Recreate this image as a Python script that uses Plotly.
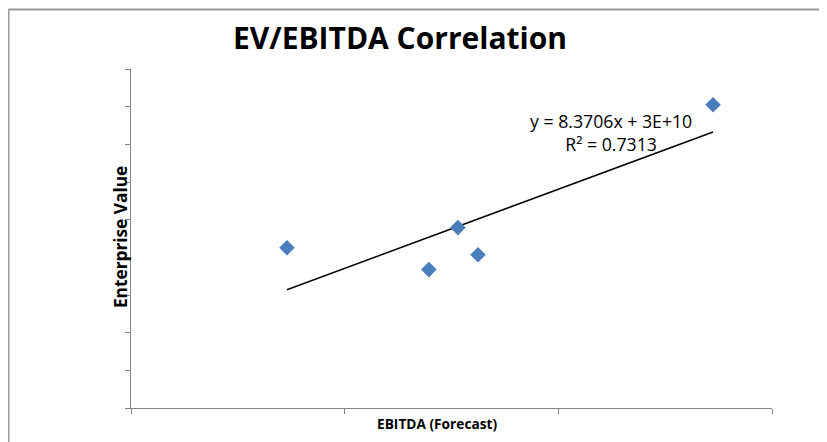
import numpy as np
import plotly.graph_objects as go

# Data (EBITDA forecast vs Enterprise Value)
ebitda = [3.65e9, 6.97e9, 7.65e9, 8.12e9, 13.62e9]
enterprise_value = [8.51e10, 7.35e10, 9.58e10, 8.14e10, 1.61e11]
trend_label = ["y = 8.3706x + 3E+10", "R² = 0.7313"]
x_ticks = [0, 5e9, 1e10, 1.5e10]
y_ticks = [i * 2e10 for i in range(10)]

slope, intercept = np.polyfit(ebitda, enterprise_value, 1)
tx = [min(ebitda), max(ebitda)]
ty = [slope * v + intercept for v in tx]

FONT = "Open Sans"

fig = go.Figure()
fig.add_trace(go.Scatter(
    x=tx, y=ty, mode="lines",
    line=dict(color="black", width=1.5),
    hoverinfo="skip", showlegend=False))
fig.add_trace(go.Scatter(
    x=ebitda, y=enterprise_value, mode="markers",
    marker=dict(symbol="diamond", size=12, color="#4A7EBB",
                line=dict(width=0)),
    showlegend=False))

fig.add_annotation(
    x=0.749, y=0.813, xref="paper", yref="paper",
    xanchor="center", yanchor="middle",
    text=trend_label[0] + "<br>" + trend_label[1],
    showarrow=False, align="center",
    font=dict(family=FONT, size=17.7, color="black"))

# axis titles
fig.add_annotation(
    x=0.477, y=-0.0457, xref="paper", yref="paper",
    xanchor="center", yanchor="middle",
    text="<b>EBITDA (Forecast)</b>", showarrow=False,
    font=dict(family=FONT, size=13.7, color="black"))
fig.add_annotation(
    x=-0.0172, y=0.504, xref="paper", yref="paper",
    xanchor="center", yanchor="middle", textangle=-90,
    text="<b>Enterprise Value</b>", showarrow=False,
    font=dict(family=FONT, size=17.3, color="black"))

axis_common = dict(
    showgrid=False, zeroline=False, showticklabels=False,
    showline=True, linecolor="#868686", linewidth=1,
    ticks="outside", ticklen=5, tickcolor="#868686", tickwidth=1,
    mirror=False, automargin=False)

fig.update_xaxes(range=[0, 1.5e10], tickmode="array", tickvals=x_ticks,
                 **axis_common)
fig.update_yaxes(range=[0, 1.8e11], tickmode="array", tickvals=y_ticks,
                 **axis_common)

fig.update_layout(
    width=827, height=442,
    margin=dict(l=123, r=63, t=61, b=42, pad=0),
    paper_bgcolor="white", plot_bgcolor="white",
    title=dict(text="<b>EV/EBITDA Correlation</b>", x=0.474, xanchor="center",
               y=0.932, yanchor="middle", automargin=False,
               font=dict(family=FONT, size=30, color="black")),
    shapes=[
        dict(type="line", xref="paper", yref="paper",
             x0=-0.1911, x1=-0.1911, y0=-0.2, y1=1.1755,
             line=dict(color="#999999", width=2)),
        dict(type="line", xref="paper", yref="paper",
             x0=-0.1911, x1=1.2, y0=1.1755, y1=1.1755,
             line=dict(color="#999999", width=2)),
    ],
)

fig.write_html("out.html")
